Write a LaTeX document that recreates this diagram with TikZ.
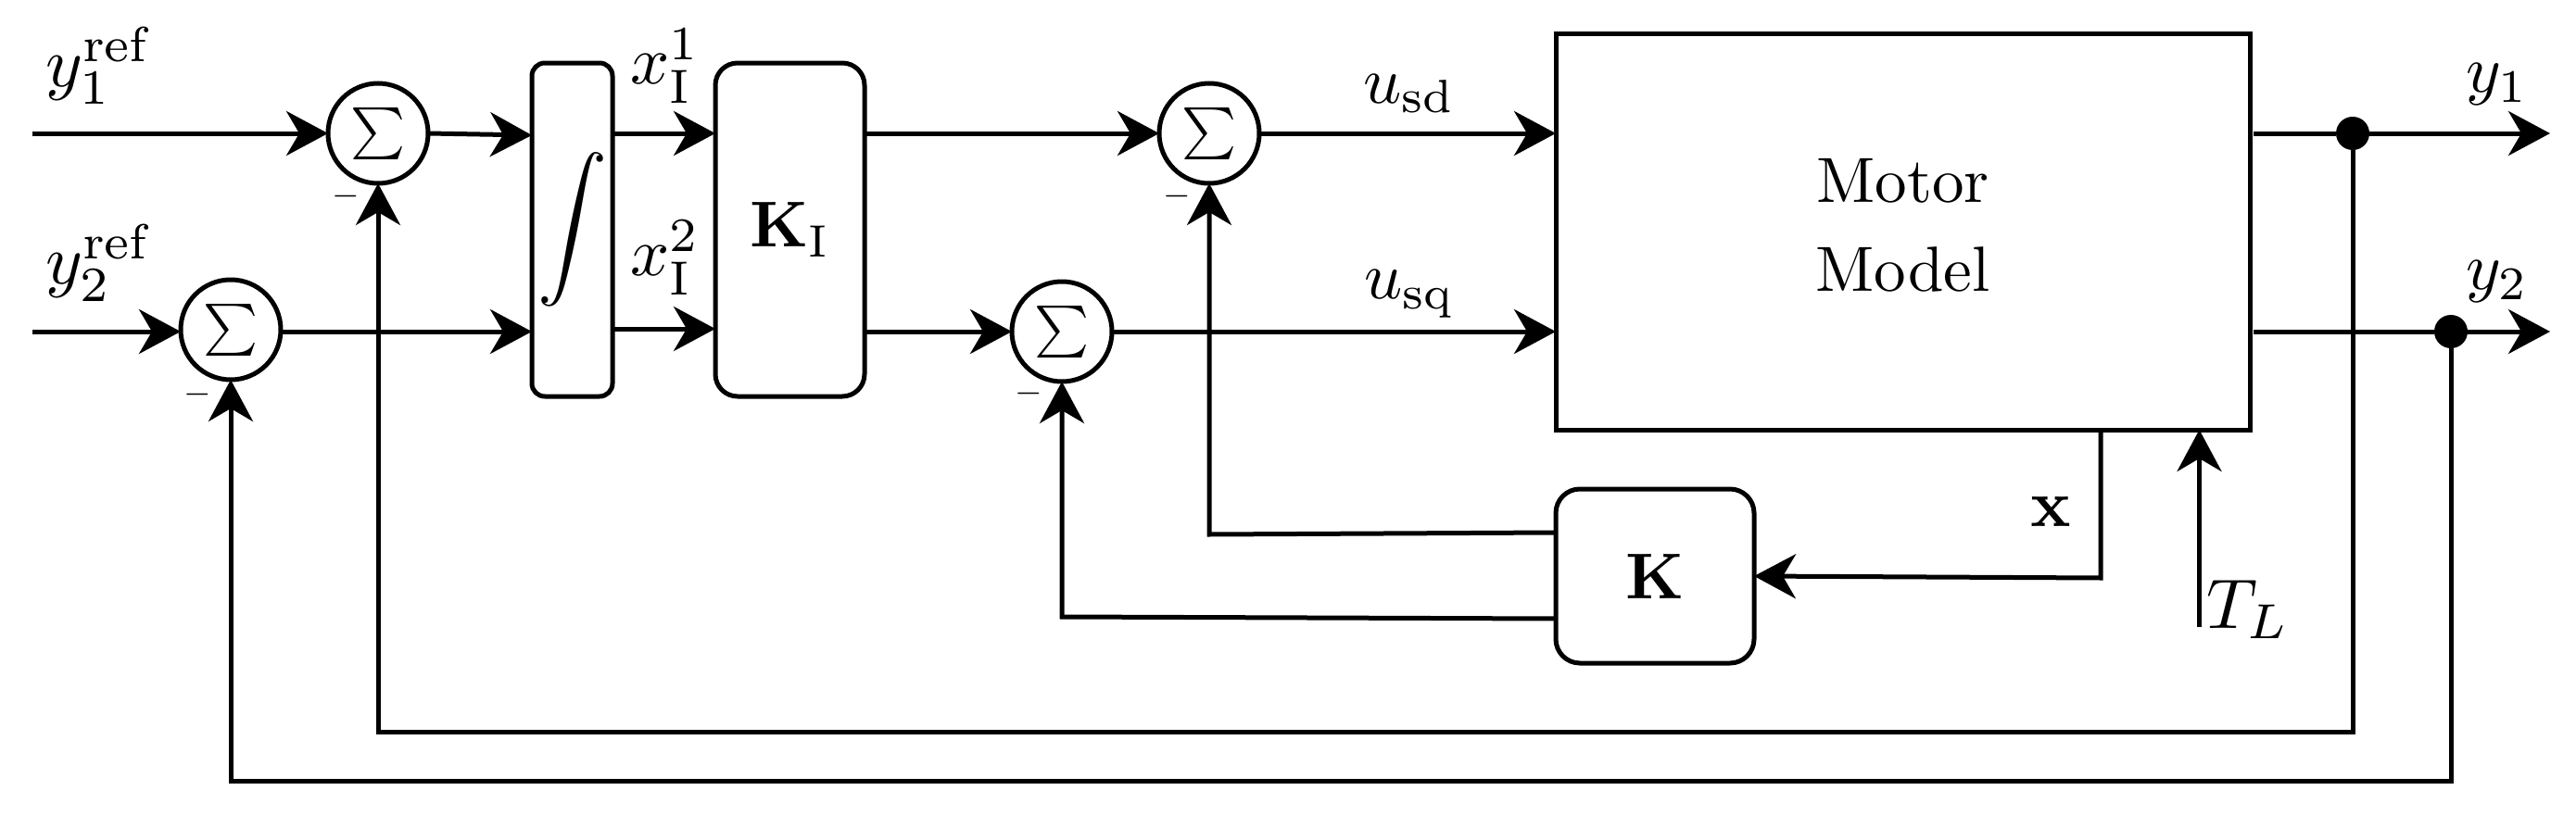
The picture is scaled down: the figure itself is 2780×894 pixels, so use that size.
\documentclass[tikz,border=0pt]{standalone}
\usetikzlibrary{arrows.meta}
\newcommand{\txt}[2]{\scalebox{#1}{#2}}
\tikzset{
  x=0.5pt,y=-0.5pt,
  wire/.style={draw,line width=2.5pt,line cap=butt},
  arr/.style={wire,-{Stealth[length=22.5pt,width=24pt,inset=7pt]}},
  sumn/.style={circle,draw,line width=2.5pt,minimum size=54pt,inner sep=0pt,outer sep=0pt},
  blk/.style={rectangle,draw,line width=2.5pt,inner sep=0pt,outer sep=0pt,align=center},
  lab/.style={inner sep=0pt,outer sep=0pt},
  dot/.style={circle,fill=black,minimum size=18pt,inner sep=0pt,outer sep=0pt},
}
\begin{document}
\begin{tikzpicture}
\useasboundingbox (0,0) rectangle (2780,894);
% summing junctions
\node[sumn] (s1) at (408,144) {\txt{2.8}{$\sum$}};
\node[sumn] (s2) at (249,356) {\txt{2.8}{$\sum$}};
\node[sumn] (s3) at (1305,144) {\txt{2.8}{$\sum$}};
\node[sumn] (s4) at (1146,358) {\txt{2.8}{$\sum$}};
% blocks
\node[blk,rounded corners=7pt,minimum width=43.5pt,minimum height=180pt] (int) at (617.5,248) {\txt{3.75}{$\displaystyle\int$}};
\node[blk,rounded corners=12pt,minimum width=80.5pt,minimum height=180pt] (ki) at (852.5,248) {\txt{3.5}{$\mathbf{K}_{\mathrm{I}}$}};
\node[blk,minimum width=374.5pt,minimum height=214pt] (m) at (2053.5,250) {\txt{3.45}{\begin{tabular}{@{}c@{}}Motor\\[2pt]Model\end{tabular}}};
\node[blk,rounded corners=13pt,minimum width=107pt,minimum height=94pt] (k) at (1786,622) {\txt{3.5}{$\mathbf{K}$}};
% free ends and corners
\coordinate (in1) at (35,144);
\coordinate (in2) at (35,358);
\coordinate (out1s) at (2432,144);
\coordinate (out2s) at (2432,358);
\coordinate (out1) at (2752,144);
\coordinate (out2) at (2752,358);
\node[dot] (d1) at (2539,144) {};
\node[dot] (d2) at (2645,358) {};
\coordinate (tl) at (2373.5,677);
\coordinate (xc) at (2267,624);
\coordinate (kx) at (1893,622);
\coordinate (kt) at (1679,575);
\coordinate (kb) at (1679,668);
\coordinate (s3c) at (1305,577);
\coordinate (s4c) at (1146,666);
\coordinate (b1) at (2539,790);
\coordinate (b2) at (2645,843);
% forward path
\draw[arr] (in1) -- (s1.west);
\draw[arr] (in2) -- (s2.west |- in2);
\draw[arr] (s1.east) -- (574,146);
\draw[arr] (s2.east |- in2) -- (574,358);
\draw[arr] (661,144) -- (772,144);
\draw[arr] (661,355) -- (772,355);
\draw[arr] (933,144) -- (s3.west);
\draw[arr] (933,358) -- (s4.west);
\draw[arr] (s3.east) -- (1679,144);
\draw[arr] (s4.east) -- (1679,358);
\draw[wire] (out1s) -- (d1);
\draw[arr] (d1) -- (out1);
\draw[wire] (out2s) -- (d2);
\draw[arr] (d2) -- (out2);
% state feedback
\draw[arr] (m.south -| xc) -- (xc) -- (kx);
\draw[arr] (kt) -- (s3c) -- (s3.south);
\draw[arr] (kb) -- (s4c) -- (s4.south);
\draw[arr] (tl) -- (m.south -| tl);
% output feedback
\draw[arr] (d1) -- (b1) -- (s1 |- b1) -- (s1.south);
\draw[arr] (d2) -- (b2) -- (s2 |- b2) -- (s2.south);
% labels
\node[lab] (ly1r) at (108,71) {\txt{3.8}{$y_1^{\mathrm{ref}}$}};
\node[lab] (ly2r) at (108,284) {\txt{3.8}{$y_2^{\mathrm{ref}}$}};
\node[lab] (lx1) at (718,71) {\txt{3.7}{$x_{\mathrm{I}}^{1}$}};
\node[lab] (lx2) at (718,278) {\txt{3.7}{$x_{\mathrm{I}}^{2}$}};
\node[lab] (lusd) at (1521,101) {\txt{3.6}{$u_{\mathrm{sd}}$}};
\node[lab] (lusq) at (1521,317) {\txt{3.6}{$u_{\mathrm{sq}}$}};
\node[lab] (ly1) at (2695,91) {\txt{3.6}{$y_1$}};
\node[lab] (ly2) at (2695,304) {\txt{3.6}{$y_2$}};
\node[lab] (lx) at (2213,552) {\txt{3.6}{$\mathbf{x}$}};
\node[lab] (ltl) at (2426,658) {\txt{3.8}{$T_L$}};
\node[lab] (m1) at (373,212) {\txt{1.9}{$-$}};
\node[lab] (m2) at (213,426) {\txt{1.9}{$-$}};
\node[lab] (m3) at (1270,212) {\txt{1.9}{$-$}};
\node[lab] (m4) at (1110,425) {\txt{1.9}{$-$}};
\end{tikzpicture}
\end{document}
